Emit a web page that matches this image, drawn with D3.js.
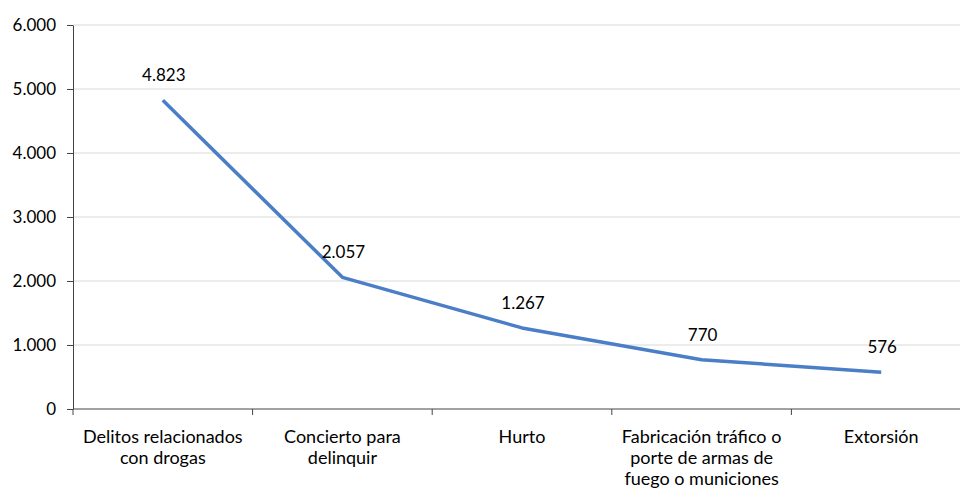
<!DOCTYPE html>
<meta charset="utf-8">
<script src="https://d3js.org/d3.v7.min.js"></script>
<style>
  body { margin: 0; background: #fff; }
  text { font-family: "Lato", "Open Sans", sans-serif; fill: #000; }
</style>
<div id="chart"></div>
<script>
  // data
  var categories = [
    ["Delitos relacionados", "con drogas"],
    ["Concierto para", "delinquir"],
    ["Hurto"],
    ["Fabricación tráfico o", "porte de armas de", "fuego o municiones"],
    ["Extorsión"]
  ];
  var values = [4823, 2057, 1267, 770, 576];
  var yTicks = [0, 1000, 2000, 3000, 4000, 5000, 6000];

  var margin = { top: 25, left: 73, bottom: 82 },
      W = 960, H = 491,
      width = 898,
      height = H - margin.top - margin.bottom;

  var svg = d3.select("#chart").append("svg")
      .attr("width", W).attr("height", H)
    .append("g")
      .attr("transform", "translate(" + margin.left + "," + margin.top + ")");

  var x = d3.scaleBand().domain(d3.range(values.length)).range([0, width]);
  var y = d3.scaleLinear().domain([0, 6000]).range([height, 0]);
  var fmt = function (v) { return d3.format(",")(v).replace(/,/g, "."); };

  // gridlines
  svg.append("g").selectAll("line")
    .data(yTicks.slice(1))
    .enter().append("line")
      .attr("x1", 0).attr("x2", width)
      .attr("y1", function (d) { return y(d); })
      .attr("y2", function (d) { return y(d); })
      .style("stroke", "#d9d9d9").style("stroke-width", 1);

  // y axis
  var yAxis = svg.append("g")
      .call(d3.axisLeft(y).tickValues(yTicks).tickFormat(fmt).tickSize(6).tickSizeOuter(0));
  yAxis.select(".domain").style("stroke", "#444");
  yAxis.selectAll(".tick line").style("stroke", "#444");
  yAxis.selectAll("text").attr("x", -17).style("font-size", "17px").style("fill", "#000");

  // x axis with ticks between categories
  var xAxis = svg.append("g").attr("transform", "translate(0," + height + ")");
  xAxis.append("line").attr("x1", 0).attr("x2", width)
      .style("stroke", "#444");
  xAxis.selectAll(".sep")
    .data(d3.range(values.length))
    .enter().append("line")
      .attr("x1", function (d) { return x(d); })
      .attr("x2", function (d) { return x(d); })
      .attr("y1", 0).attr("y2", 6)
      .style("stroke", "#444");

  var lbl = xAxis.selectAll(".cat")
    .data(categories)
    .enter().append("text")
      .attr("text-anchor", "middle")
      .attr("transform", function (d, i) { return "translate(" + (x(i) + x.bandwidth() / 2) + ",34)"; })
      .style("font-size", "18px");
  lbl.selectAll("tspan")
    .data(function (d) { return d; })
    .enter().append("tspan")
      .attr("x", 0)
      .attr("y", function (d, i) { return i * 21; })
      .text(function (d) { return d; });

  // line
  var line = d3.line()
      .x(function (d, i) { return x(i) + x.bandwidth() / 2; })
      .y(function (d) { return y(d); });

  svg.append("path")
      .datum(values)
      .attr("d", line)
      .style("fill", "none")
      .style("stroke", "#4a7ec7")
      .style("stroke-width", 3.5)
      .style("stroke-linejoin", "round");

  // data labels
  svg.append("g").selectAll("text")
    .data(values)
    .enter().append("text")
      .attr("text-anchor", "middle")
      .attr("x", function (d, i) { return x(i) + x.bandwidth() / 2 + 1; })
      .attr("y", function (d) { return y(d) - 19; })
      .style("font-size", "17px")
      .text(fmt);
</script>
